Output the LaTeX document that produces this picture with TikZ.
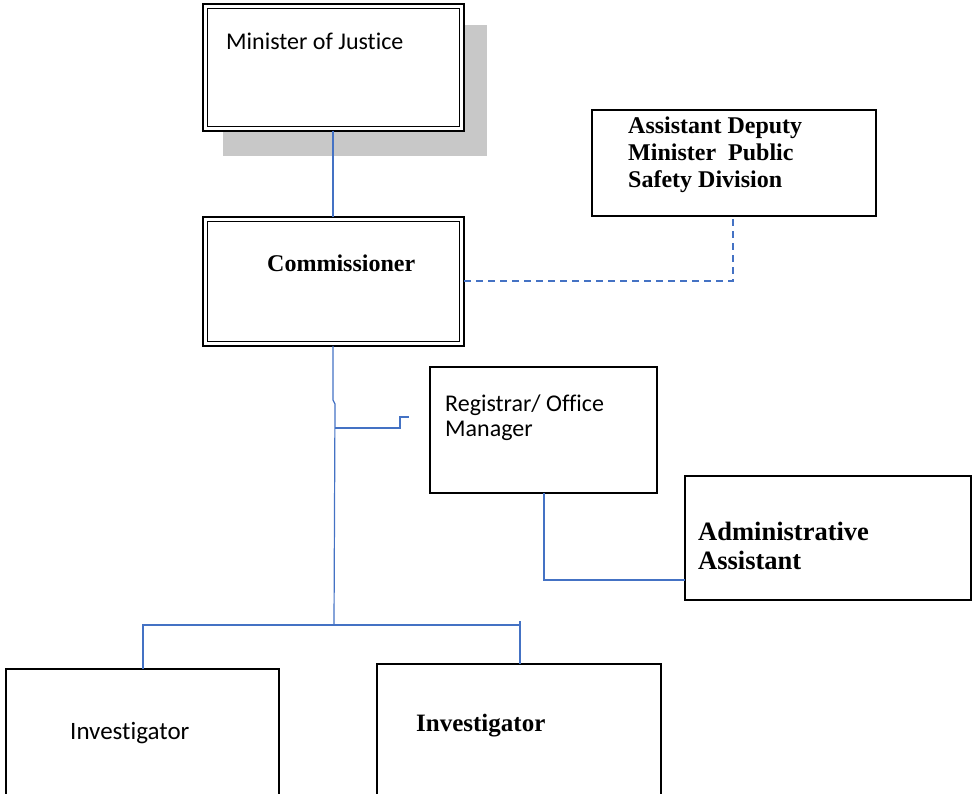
\documentclass[tikz,border=0pt]{standalone}
\usepackage{fontspec}
\setmainfont{Liberation Serif}
\newfontfamily\calfont[Ligatures=NoCommon]{Carlito}
\definecolor{conn}{HTML}{4472C4}
\definecolor{shadowgray}{HTML}{C8C8C8}
\begin{document}
\begin{tikzpicture}[x=1pt,y=-1pt,
  box/.style={draw=black,line width=1.3pt,fill=white},
  dbox/.style={draw=black,line width=1.8pt,fill=white},
  inner/.style={draw=black,line width=1.1pt},
  link/.style={draw=conn,line width=1.2pt},
  serifb/.style={font=\fontsize{24}{27.5}\selectfont\bfseries,anchor=base west,inner sep=0pt,align=left},
  sansr/.style={font=\calfont\fontsize{24}{25}\selectfont,anchor=base west,inner sep=0pt,align=left}]
\useasboundingbox (0,0) rectangle (972,794);
% shadow
\fill[shadowgray] (223,25) rectangle (487,156);
% boxes
\path[dbox] (203,4) rectangle (464,131);
\coordinate (minS) at (333,131);
\path[inner] (207.5,8.5) rectangle (459.5,126.5);
\node[sansr] (mintxt) at (226,50) {Minister of Justice};

\path[dbox] (203,217) rectangle (464,346);
\path[inner] (207.5,221.5) rectangle (459.5,341.5);
\coordinate (comN) at (333,217);
\coordinate (comE) at (464,281);
\coordinate (comS) at (333,346);
\node[serifb] (comtxt) at (267,272) {Commissioner};

\path[box] (592,110) rectangle (876,216);
\coordinate (admS) at (733,216);
\node[serifb,font=\fontsize{24}{27}\selectfont\bfseries] (admtxt) at (628,188) {Assistant Deputy\\Minister\ \ Public\\Safety Division};

\path[box] (430,367) rectangle (657,493);
\coordinate (regS) at (544,493);
\node[sansr] (regtxt) at (445,436) {Registrar/ Office\\Manager};

\path[box] (685,476) rectangle (971,600);
\coordinate (aaW) at (685,580);
\node[serifb,font=\fontsize{26.5}{29}\selectfont\bfseries] (aatxt) at (698,569) {Administrative\\Assistant};

\path[box] (6,669) rectangle (279,797);
\coordinate (inv1N) at (143,669);
\node[sansr,font=\calfont\fontsize{25}{25}\selectfont] (inv1txt) at (70,739) {Investigator};

\path[box] (377,664) rectangle (661,797);
\coordinate (inv2N) at (520,664);
\node[serifb,font=\fontsize{25}{27}\selectfont\bfseries] (inv2txt) at (416,731) {Investigator};

% connectors
\draw[link] (minS) -- (comN);
\draw[link,dashed,dash pattern=on 7pt off 5pt] (comE) -- (733,281) -- (admS);
\draw[link] (comS) -- (333,400) -- (335,404) -- (334,625);
\draw[link] (335,428) -- (400,428) -- (400,417) -- (409,417);
\draw[link] (inv1N) -- (143,625) -- (520,625) -- (inv2N);
\draw[link] (520,621) -- (520,629);
\draw[link] (regS) -- (544,580) -- (aaW);
\end{tikzpicture}
\end{document}
